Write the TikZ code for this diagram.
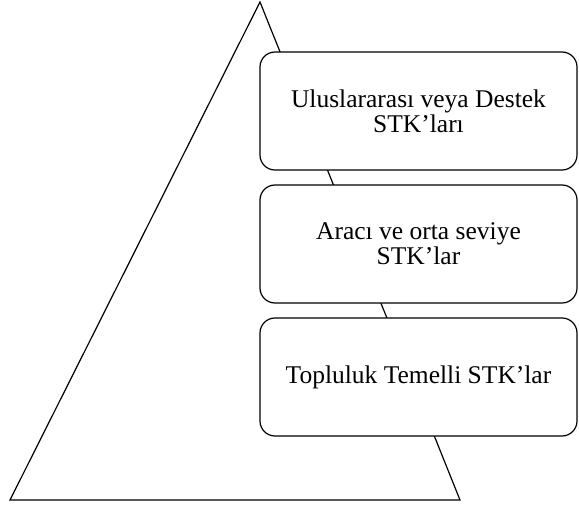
\documentclass[tikz,border=0pt]{standalone}
\usepackage{fontspec}
\setmainfont{Liberation Serif}
\begin{document}
\begin{tikzpicture}[x=1pt,y=-1pt,
  tier/.style={draw=black, line width=1.2pt, fill=white, rounded corners=15pt, align=center,
    minimum width=317pt, minimum height=118pt, inner sep=0pt,
    font=\fontsize{25.5}{25}\selectfont}]
\useasboundingbox (0,0) rectangle (579,506);
\coordinate (apex) at (260,2);
\coordinate (bl) at (10,500);
\coordinate (br) at (460,500);
\draw[line width=1.2pt, line join=miter] (apex) -- (br) -- (bl) -- cycle;
\node[tier] (t1) at (418.5,111) {Uluslararası veya Destek\\STK’ları};
\node[tier] (t2) at (418.5,244) {Aracı ve orta seviye\\STK’lar};
\node[tier] (t3) at (418.5,377) {Topluluk Temelli STK’lar};
\end{tikzpicture}
\end{document}
